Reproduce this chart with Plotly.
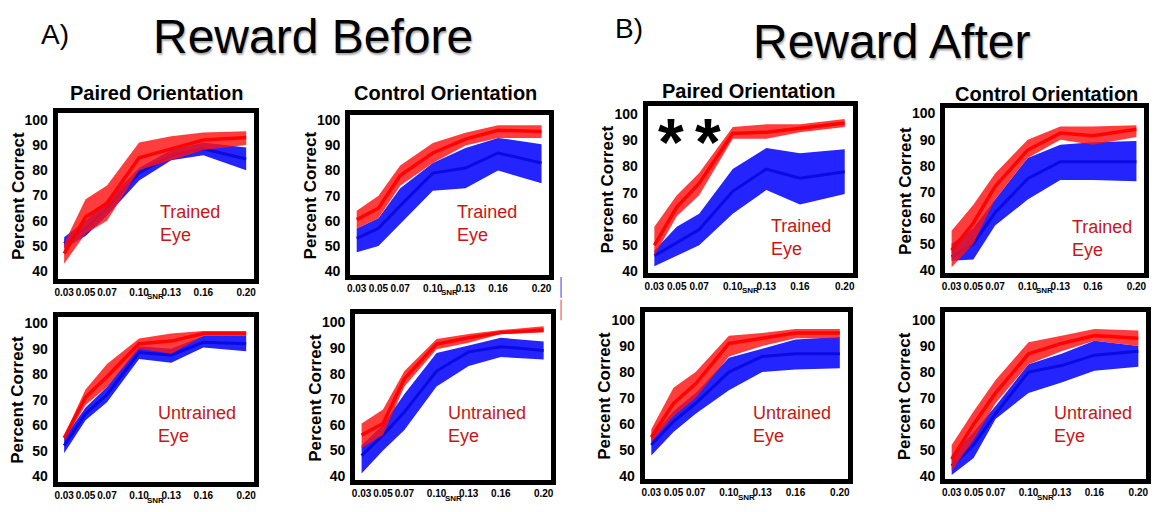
import plotly.graph_objects as go

# ---------------- data ----------------
snr = [0.03, 0.05, 0.07, 0.10, 0.13, 0.16, 0.20]
snr_labels = ["0.03", "0.05", "0.07", "0.10", "0.13", "0.16", "0.20"]
y_ticks = [40, 50, 60, 70, 80, 90, 100]

# Panel 1: Reward Before, Paired, Trained eye
p1_blue_mean = [51, 57, 65, 79, 86, 88.5, 84.5]
p1_blue_lo = [49, 54, 62, 76, 84, 86, 80]
p1_blue_hi = [53.5, 60, 68, 81, 88, 91, 89]
p1_red_mean = [47, 61.5, 67, 85, 88.5, 92, 93]
p1_red_lo = [43, 55, 60, 80, 84, 88, 90]
p1_red_hi = [51, 68.5, 74, 91, 93.5, 95, 95.5]

# Panel 2: Reward Before, Control, Trained eye
p2_blue_mean = [53, 57, 66, 79, 81, 87, 83]
p2_blue_lo = [47.5, 50, 59, 72, 73, 80, 75]
p2_blue_hi = [57, 61, 73, 83, 89, 93, 90.5]
p2_red_mean = [60.5, 65, 78, 87, 92.5, 96, 95.5]
p2_red_lo = [57, 61, 74, 83, 90, 93, 93]
p2_red_hi = [64, 70, 82, 91, 95, 98, 98]

# Panel 3: Reward After, Paired, Trained eye
p3_blue_mean = [46, 51, 56, 70.5, 79, 75.5, 78]
p3_blue_lo = [42, 46, 50, 62, 71, 65.5, 69.5]
p3_blue_hi = [48, 57, 62, 79, 87, 85, 86.5]
p3_red_mean = [50, 64.5, 73.5, 92.5, 93, 94.5, 96.5]
p3_red_lo = [46, 61, 69, 90.5, 90.5, 93, 95]
p3_red_hi = [57, 69, 77.5, 95, 96, 96, 98]

# Panel 4: Reward After, Control, Trained eye
p4_blue_mean = [45, 50, 62, 75, 81.5, 81.5, 81.5]
p4_blue_lo = [43.5, 44, 57, 67, 74.5, 74.5, 74]
p4_blue_hi = [50, 56, 67, 83, 88, 89, 89.5]
p4_red_mean = [47.5, 58, 72, 86, 92.5, 91.5, 94]
p4_red_lo = [41, 50, 67, 83, 90, 88, 91]
p4_red_hi = [55, 65, 77, 90, 95, 95, 95.5]

# Panel 5: Reward Before, Paired, Untrained eye
p5_blue_mean = [52, 64.5, 72, 88.5, 87.5, 92.5, 92]
p5_blue_lo = [49, 62, 69, 86, 84.5, 90.5, 89]
p5_blue_hi = [55, 67, 75, 91, 90, 95, 95]
p5_red_mean = [55, 71, 79, 92, 93, 96, 96]
p5_red_lo = [54, 68, 75, 90, 88, 95, 95]
p5_red_hi = [56, 74, 84, 94, 96, 97, 97]

# Panel 6: Reward Before, Control, Untrained eye
p6_blue_mean = [48, 56, 65, 81, 88.5, 90.5, 89]
p6_blue_lo = [41, 50, 58, 75, 83, 86.5, 85.5]
p6_blue_hi = [52, 60, 72, 88, 91, 94, 92.5]
p6_red_mean = [56, 60.5, 78, 91.5, 94, 96, 97]
p6_red_lo = [51, 56, 75, 89.5, 92, 95.5, 96]
p6_red_hi = [60.5, 66, 81, 93.5, 95.5, 97, 98.5]

# Panel 7: Reward After, Paired, Untrained eye
p7_blue_mean = [52, 61, 68, 80, 86, 87, 87]
p7_blue_lo = [48, 57, 64, 73, 80, 81, 81.5]
p7_blue_hi = [55, 65, 72, 85.5, 89, 92.5, 93.5]
p7_red_mean = [55, 68, 75.5, 91, 93, 95, 95]
p7_red_lo = [53, 63, 70, 86, 90, 93, 93]
p7_red_hi = [58, 74, 80, 94, 95, 96.5, 96.5]

# Panel 8: Reward After, Control, Untrained eye
p8_blue_mean = [44, 52, 64, 80, 82.5, 86.5, 88]
p8_blue_lo = [40.5, 47, 62, 72, 76, 80.5, 82]
p8_blue_hi = [48, 57, 67, 83, 87, 92, 90]
p8_red_mean = [46.5, 60, 72, 87, 91, 94, 93]
p8_red_lo = [42, 54, 68, 83, 88, 92, 90]
p8_red_hi = [52, 65, 77, 91.5, 94, 96.5, 96]

panel_data = [
    (p1_blue_mean, p1_blue_lo, p1_blue_hi, p1_red_mean, p1_red_lo, p1_red_hi),
    (p2_blue_mean, p2_blue_lo, p2_blue_hi, p2_red_mean, p2_red_lo, p2_red_hi),
    (p3_blue_mean, p3_blue_lo, p3_blue_hi, p3_red_mean, p3_red_lo, p3_red_hi),
    (p4_blue_mean, p4_blue_lo, p4_blue_hi, p4_red_mean, p4_red_lo, p4_red_hi),
    (p5_blue_mean, p5_blue_lo, p5_blue_hi, p5_red_mean, p5_red_lo, p5_red_hi),
    (p6_blue_mean, p6_blue_lo, p6_blue_hi, p6_red_mean, p6_red_lo, p6_red_hi),
    (p7_blue_mean, p7_blue_lo, p7_blue_hi, p7_red_mean, p7_red_lo, p7_red_hi),
    (p8_blue_mean, p8_blue_lo, p8_blue_hi, p8_red_mean, p8_red_lo, p8_red_hi),
]
eye_labels = ["Trained<br>Eye"] * 4 + ["Untrained<br>Eye"] * 4
column_titles = ["Paired Orientation", "Control Orientation",
                 "Paired Orientation", "Control Orientation"]

# ---------------- layout geometry (pixels) ----------------
W, H = 1155, 512
# (x0, x1, y0_top, y1_bottom) of each plot box
boxes = [
    (55, 252, 112, 281), (349, 549, 114, 277), (648, 854, 105, 275), (947, 1147, 107, 275),
    (55, 252, 320, 488), (354, 551, 317, 486), (645, 849, 315, 485), (947, 1149, 315, 485),
]
y_ranges = [
    [36.9, 102.7], [38.4, 102.1], [39.4, 102.9], [38.75, 102.1],
    [37.6, 102.3], [38.3, 103.1], [38.75, 102.9], [38.75, 102.9],
]
x_range = [0.024, 0.207]
# position of the eye label inside each panel (fraction of plot width / height)
eye_x = [0.513, 0.525, 0.592, 0.63, 0.503, 0.462, 0.525, 0.53]
eye_y = [0.337, 0.325, 0.212, 0.211, 0.351, 0.337, 0.329, 0.329]

FONT = "Liberation Sans, Arial, Helvetica, sans-serif"
BLUE_FILL = "rgb(36,36,255)"
BLUE_LINE = "rgb(10,10,225)"
RED_FILL = "rgba(255,18,18,0.82)"
RED_LINE = "rgba(255,0,0,0.95)"
TXT_RED = "rgb(200,22,22)"

def px_x(p):
    return p / W

def px_y(p):
    return 1 - p / H

fig = go.Figure()
layout = dict(
    width=W, height=H, margin=dict(l=0, r=0, t=0, b=0),
    paper_bgcolor="white", plot_bgcolor="white", showlegend=False,
    font=dict(family=FONT, color="black"),
)
annotations = []
shapes = []

for i, (bm, blo, bhi, rm, rlo, rhi) in enumerate(panel_data):
    k = i + 1
    xa = "x" if k == 1 else f"x{k}"
    ya = "y" if k == 1 else f"y{k}"
    poly_x = snr + snr[::-1]
    fig.add_trace(go.Scatter(x=poly_x, y=bhi + blo[::-1], fill="toself", fillcolor=BLUE_FILL,
                             line=dict(width=0), mode="lines", hoverinfo="skip", xaxis=xa, yaxis=ya))
    fig.add_trace(go.Scatter(x=snr, y=bm, mode="lines", line=dict(color=BLUE_LINE, width=3),
                             xaxis=xa, yaxis=ya))
    fig.add_trace(go.Scatter(x=poly_x, y=rhi + rlo[::-1], fill="toself", fillcolor=RED_FILL,
                             line=dict(width=0), mode="lines", hoverinfo="skip", xaxis=xa, yaxis=ya))
    fig.add_trace(go.Scatter(x=snr, y=rm, mode="lines", line=dict(color=RED_LINE, width=3.5),
                             xaxis=xa, yaxis=ya))

    x0, x1, y0, y1 = boxes[i]
    axn = "" if k == 1 else str(k)
    layout["xaxis" + axn] = dict(
        domain=[px_x(x0), px_x(x1)], anchor=ya, range=x_range,
        tickmode="array", tickvals=snr, ticktext=["<b>%s</b>" % t for t in snr_labels],
        tickangle=0, tickfont=dict(size=10, family=FONT, color="black"),
        showgrid=False, zeroline=False, showline=True, mirror=True,
        linecolor="black", linewidth=5, ticks="", ticklabelstandoff=0,
    )
    layout["yaxis" + axn] = dict(
        domain=[px_y(y1), px_y(y0)], anchor=xa, range=y_ranges[i],
        tickmode="array", tickvals=y_ticks, ticktext=["<b>%d</b>" % v for v in y_ticks],
        tickfont=dict(size=14, family=FONT, color="black"),
        showgrid=False, zeroline=False, showline=True, mirror=True,
        linecolor="black", linewidth=5, ticks="", ticklabelstandoff=2,
    )
    # y title
    annotations.append(dict(
        text="<b>Percent Correct</b>", xref="paper", yref="paper", textangle=-90,
        x=px_x(x0 - 40), y=px_y((y0 + y1) / 2), xanchor="center", yanchor="middle",
        showarrow=False, font=dict(size=17, family=FONT, color="black"),
    ))
    # x title
    annotations.append(dict(
        text="<b>SNR</b>", xref="paper", yref="paper",
        x=px_x((x0 + x1) / 2), y=px_y(y1 + 18), xanchor="center", yanchor="middle",
        showarrow=False, font=dict(size=8, family=FONT, color="black"),
    ))
    # eye label
    annotations.append(dict(
        text=eye_labels[i], xref=xa + " domain", yref=ya + " domain",
        x=eye_x[i], y=eye_y[i],
        xanchor="left", yanchor="middle", align="left", showarrow=False,
        font=dict(size=18, family=FONT, color=TXT_RED),
    ))

# column titles
for title, cx, cy in zip(column_titles, [154, 445, 749, 1049], [92, 92, 90, 93]):
    annotations.append(dict(
        text="<b>%s</b>" % title, xref="paper", yref="paper", x=px_x(cx), y=px_y(cy),
        xanchor="center", yanchor="middle", showarrow=False,
        font=dict(size=20, family=FONT, color="black"),
    ))

# big headers
annotations += [
    dict(text="A)", xref="paper", yref="paper", x=px_x(52), y=px_y(32), xanchor="center",
         yanchor="middle", showarrow=False, font=dict(size=28, family=FONT, color="black")),
    dict(text="Reward Before", xref="paper", yref="paper", x=px_x(312), y=px_y(34),
         xanchor="center", yanchor="middle", showarrow=False,
         font=dict(size=48, family=FONT, color="black", shadow="1px 2px 2px rgba(0,0,0,0.35)")),
    dict(text="B)", xref="paper", yref="paper", x=px_x(629), y=px_y(26), xanchor="center",
         yanchor="middle", showarrow=False, font=dict(size=28, family=FONT, color="black")),
    dict(text="Reward After", xref="paper", yref="paper", x=px_x(893), y=px_y(39),
         xanchor="center", yanchor="middle", showarrow=False,
         font=dict(size=48, family=FONT, color="black", shadow="1px 2px 2px rgba(0,0,0,0.35)")),
]
# significance asterisks in panel 3
for ax_x in [671, 709]:
    annotations.append(dict(
        text="<b>*</b>", xref="paper", yref="paper", x=px_x(ax_x), y=px_y(125),
        xanchor="center", yanchor="middle", showarrow=False,
        font=dict(size=66, family=FONT, color="black"),
        yshift=-16,
    ))

# small stray legend marks
shapes += [
    dict(type="line", xref="paper", yref="paper", x0=px_x(561), x1=px_x(561),
         y0=px_y(279), y1=px_y(300), line=dict(color="rgb(120,120,255)", width=1.5)),
    dict(type="line", xref="paper", yref="paper", x0=px_x(561), x1=px_x(561),
         y0=px_y(302), y1=px_y(323), line=dict(color="rgb(255,120,120)", width=1.5)),
]

layout["annotations"] = annotations
layout["shapes"] = shapes
fig.update_layout(**layout)
fig.write_html("out.html")
